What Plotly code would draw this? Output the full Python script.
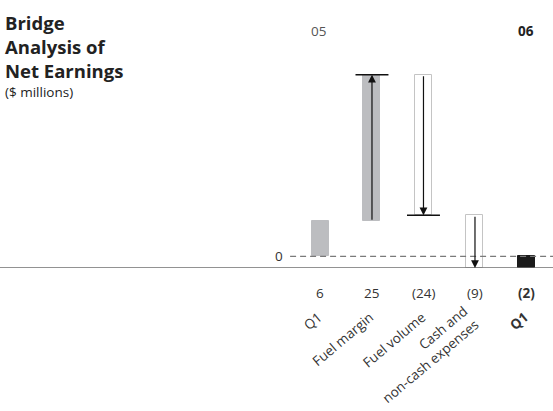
import plotly.graph_objects as go

# Bridge of net earnings, Q1 2005 -> Q1 2006 ($ millions)
categories = ["Q1", "Fuel margin", "Fuel volume", "Cash and<br>non-cash expenses", "Q1"]
value_labels = ["6", "25", "(24)", "(9)", "<b>(2)</b>"]
start_value = 6
changes = [25, -24, -9]
end_value = -2

FONT = "Open Sans, Noto Sans, sans-serif"
W, H = 553, 411
M_T, M_B = 63, 143
PLOT_H = H - M_T - M_B
Y_MIN, Y_MAX = -2, 33
X_MIN, X_MAX = -6.223, 4.515
BAR_W = 0.33


def py_to_paper(py):
    return (H - M_B - py) / PLOT_H


def px_to_paper(px):
    return px / W


x_pos = list(range(len(categories)))

# running totals for each step of the bridge
bases, heights = [0], [start_value]
running = start_value
for c in changes:
    bases.append(running)
    heights.append(c)
    running += c
bases.append(0)
heights.append(end_value)

fills = ["#bcbdc0", "#bcbdc0", "white", "white", "#1a1a1a"]
outlines = ["#bcbdc0", "#bcbdc0", "#c4c4c4", "#c4c4c4", "#1a1a1a"]

fig = go.Figure()
fig.add_trace(go.Bar(
    x=x_pos, y=heights, base=bases, width=BAR_W,
    marker=dict(color=fills, line=dict(color=outlines, width=1)),
    hoverinfo="skip", showlegend=False,
))

shapes = []
annotations = []

# zero reference (dashed) and baseline
shapes.append(dict(type="line", xref="x", yref="y", x0=-0.59, x1=X_MAX, y0=0, y1=0,
                   line=dict(color="#7a7a7a", width=1.2, dash="6px,4px")))
shapes.append(dict(type="line", xref="paper", yref="y", x0=0, x1=1, y0=Y_MIN, y1=Y_MIN,
                   line=dict(color="#6e6e6e", width=1.5)))

# arrows and caps for the change steps
for i, c in enumerate(changes, start=1):
    y0 = bases[i]
    y1 = bases[i] + heights[i]
    annotations.append(dict(x=i, y=y1, ax=i, ay=y0, xref="x", yref="y", axref="x", ayref="y",
                            text="", showarrow=True, arrowhead=2, arrowsize=1.3,
                            arrowwidth=1.2, arrowcolor="#111111", standoff=0))
    if i < len(changes):
        shapes.append(dict(type="line", xref="x", yref="y", x0=i - 0.32, x1=i + 0.32,
                           y0=y1, y1=y1, line=dict(color="#111111", width=1.5)))

# value row under the axis
for xi, lab in zip(x_pos, value_labels):
    annotations.append(dict(x=xi, y=py_to_paper(293), xref="x", yref="paper", text=lab,
                            showarrow=False, font=dict(family=FONT, size=13.5, color="#333333"),
                            xanchor="center", yanchor="middle"))

# slanted category labels, top-right corner hung just under the value row
for xi, cat in zip(x_pos, categories):
    is_last = xi == x_pos[-1]
    multi = "<br>" in cat
    annotations.append(dict(x=xi, y=py_to_paper(300 if multi else 306), xref="x", yref="paper",
                            xshift=10 if multi else 8,
                            text=f"<b>{cat}</b>" if is_last else cat, textangle=-40,
                            align="right", showarrow=False, xanchor="right", yanchor="top",
                            font=dict(family=FONT, size=13.5, color="#333333")))

annotations.append(dict(x=-0.802, y=0, xref="x", yref="y", text="0", showarrow=False,
                        font=dict(family=FONT, size=13.5, color="#333333"),
                        xanchor="center", yanchor="middle"))

# year headers
annotations.append(dict(x=-0.04, y=py_to_paper(31), xref="x", yref="paper", text="05",
                        showarrow=False, xanchor="center", yanchor="middle",
                        font=dict(family=FONT, size=13.5, color="#555555")))
annotations.append(dict(x=4, y=py_to_paper(31), xref="x", yref="paper", text="<b>06</b>",
                        showarrow=False, xanchor="center", yanchor="middle",
                        font=dict(family=FONT, size=13.5, color="#222222")))

# title block
annotations.append(dict(x=px_to_paper(3), y=py_to_paper(8), xref="paper", yref="paper",
                        text="<b>Bridge<br>Analysis of<br>Net Earnings</b>", align="left",
                        showarrow=False, xanchor="left", yanchor="top",
                        font=dict(family=FONT, size=18.5, color="#222222")))
annotations.append(dict(x=px_to_paper(3), y=py_to_paper(92), xref="paper", yref="paper",
                        text="($ millions)", showarrow=False, xanchor="left", yanchor="middle",
                        font=dict(family=FONT, size=13.5, color="#222222")))

fig.update_layout(
    width=W, height=H,
    margin=dict(l=0, r=0, t=M_T, b=M_B),
    paper_bgcolor="white", plot_bgcolor="white",
    shapes=shapes, annotations=annotations,
    xaxis=dict(range=[X_MIN, X_MAX], tickvals=x_pos, showticklabels=False,
               showgrid=False, zeroline=False, showline=False, ticks="", automargin=False),
    yaxis=dict(range=[Y_MIN, Y_MAX], showgrid=False, zeroline=False, showline=False,
               showticklabels=False, ticks="", automargin=False),
    bargap=0,
)

fig.write_html("out.html")
